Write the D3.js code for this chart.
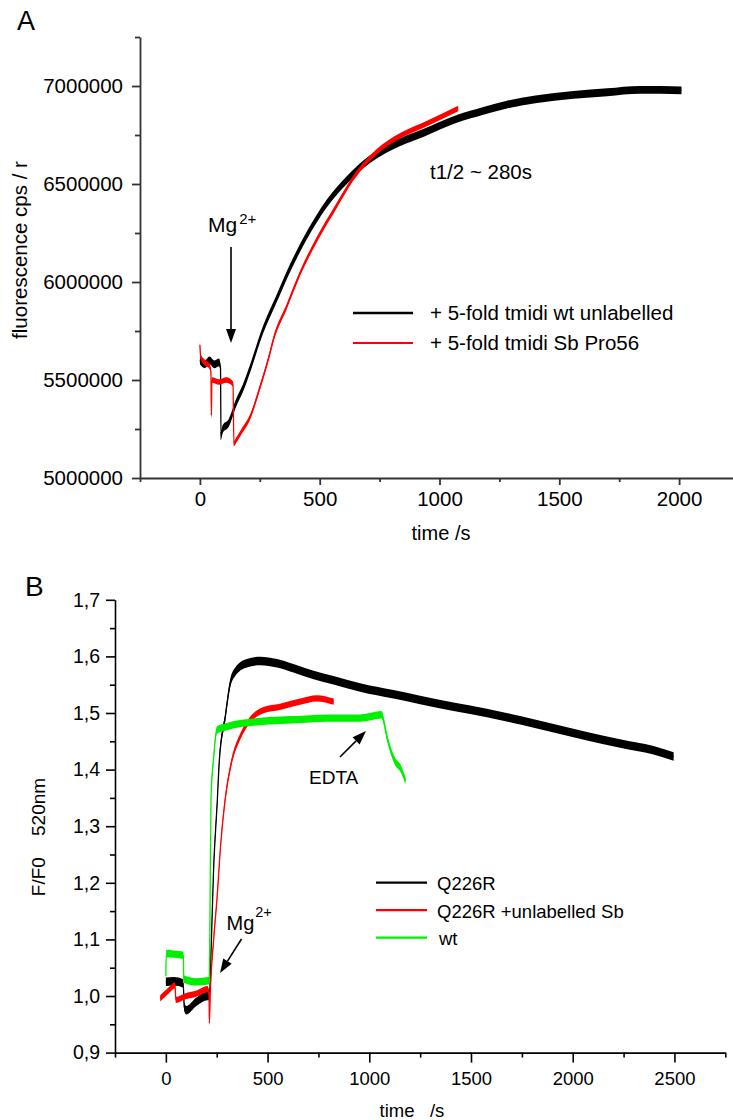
<!DOCTYPE html>
<html>
<head>
<meta charset="utf-8">
<script src="https://cdn.jsdelivr.net/npm/d3@7"></script>
<style>
  body { margin: 0; background: #fff; }
  text { font-family: "Liberation Sans", Arial, Helvetica, sans-serif; fill: #000; }
</style>
</head>
<body>
<div id="chart"></div>
<script>
// ---- panel A : fluorescence cps / r vs time
const aTimeWt = [0, 20, 40, 60, 80, 86, 88, 95, 120, 150, 180, 210, 258, 320, 376, 445, 529, 613, 682, 738, 834, 932, 1072, 1183, 1281, 1400, 1559, 1700, 1837, 2010];
const aWt = [5600000, 5580000, 5600000, 5580000, 5590000, 5560000, 5215000, 5250000, 5280000, 5380000, 5460000, 5560000,
  5738000, 5915000, 6070000, 6235000, 6400000, 6520000, 6600000, 6650000, 6712000, 6760000, 6832000, 6873000, 6905000,
  6932000, 6955000, 6968000, 6980000, 6978000];
const aTimeSb = [0, 3, 20, 40, 46, 48, 50, 80, 110, 138, 142, 150, 170, 209, 250, 292, 306, 362, 418, 487, 571, 640, 738, 834, 932, 1078];
const aSb = [5680000, 5620000, 5590000, 5570000, 5540000, 5320000, 5500000, 5490000, 5500000, 5480000, 5175000, 5190000, 5230000,
  5310000, 5460000, 5636000, 5704000, 5874000, 6044000, 6214000, 6390000, 6530000, 6665000, 6745000, 6800000, 6885000];
const aNoiseWt = 20000, aNoiseSb = 14000;
const aYTicks = [5000000, 5500000, 6000000, 6500000, 7000000];
const aYMinor = [5250000, 5750000, 6250000, 6750000, 7250000];
const aXTicks = [0, 500, 1000, 1500, 2000];
const aXMinor = [-250, 250, 750, 1250, 1750, 2250];
const aLegend = ["+ 5-fold tmidi wt unlabelled", "+ 5-fold tmidi Sb Pro56"];

// ---- panel B : F/F0 520nm vs time
const bTimeQ = [0, 40, 85, 91, 100, 150, 205, 214, 224, 234, 253, 263, 292, 316, 341, 398, 464, 546, 627, 726, 824, 955, 1119, 1250, 1414, 1578, 1742, 1906, 2070, 2233, 2397, 2496];
const bQ = [1.025, 1.026, 1.022, 0.98, 0.975, 0.99, 1.0, 1.0, 1.10, 1.217, 1.346, 1.417, 1.493, 1.552, 1.573, 1.588, 1.592, 1.588,
  1.579, 1.567, 1.558, 1.545, 1.533, 1.523, 1.511, 1.500, 1.487, 1.473, 1.459, 1.446, 1.434, 1.423];
const bTimeQSb = [-28, 0, 20, 45, 49, 100, 150, 205, 212, 214, 218, 235, 251, 270, 291, 325, 365, 414, 480, 561, 660, 742, 825];
const bQSb = [0.996, 1.005, 1.012, 1.019, 0.993, 1.0, 1.004, 1.012, 1.005, 0.952, 1.0, 1.10, 1.17, 1.27, 1.346, 1.417, 1.458, 1.488,
  1.505, 1.511, 1.520, 1.526, 1.520];
const bTimeWt = [0, 2, 40, 86, 88, 150, 210, 214, 218, 222, 234, 251, 300, 464, 627, 792, 955, 1062, 1068, 1088, 1123, 1157, 1178];
const bWt = [1.035, 1.075, 1.074, 1.072, 1.03, 1.025, 1.027, 1.03, 1.20, 1.35, 1.417, 1.470, 1.476, 1.485, 1.488, 1.491, 1.491, 1.497,
  1.49, 1.456, 1.417, 1.400, 1.38];
const bNoiseQ = 0.0075, bNoiseQSb = 0.0055, bNoiseWt = 0.0065;
const bYTicks = [0.9, 1.0, 1.1, 1.2, 1.3, 1.4, 1.5, 1.6, 1.7];
const bYMinor = [0.95, 1.05, 1.15, 1.25, 1.35, 1.45, 1.55, 1.65];
const bXTicks = [0, 500, 1000, 1500, 2000, 2500];
const bXMinor = [-250, 250, 750, 1250, 1750, 2250, 2750];
const bLegend = ["Q226R", "Q226R +unlabelled Sb", "wt"];

const width = 733, height = 1120;

const svg = d3.select("#chart")
  .append("svg")
  .attr("width", width)
  .attr("height", height)
  .style("display", "block");

svg.append("rect").attr("width", width).attr("height", height).attr("fill", "#fff");

// noisy trace: a band of +-noise around the read values, plus a thin centre line
function trace(g, x, y, ts, vs, noise, color) {
  const pts = ts.map((t, i) => [t, vs[i]]);
  g.append("path")
    .datum(pts)
    .attr("fill", color)
    .attr("d", d3.area()
      .curve(d3.curveMonotoneX)
      .x(d => x(d[0]))
      .y0(d => y(d[1] - noise))
      .y1(d => y(d[1] + noise)));
  g.append("path")
    .datum(pts)
    .attr("fill", "none")
    .attr("stroke", color)
    .attr("stroke-width", 1.3)
    .attr("d", d3.line().curve(d3.curveMonotoneX).x(d => x(d[0])).y(d => y(d[1])));
}

function arrow(g, x1, y1, x2, y2) {
  const a = Math.atan2(y2 - y1, x2 - x1), L = 14, W = 5;
  const bx = x2 - L * Math.cos(a), by = y2 - L * Math.sin(a);
  g.append("line").attr("x1", x1).attr("y1", y1).attr("x2", bx).attr("y2", by)
    .attr("stroke", "#000").attr("stroke-width", 1.6);
  g.append("path")
    .attr("d", "M" + x2 + "," + y2 +
      "L" + (bx + W * Math.sin(a)) + "," + (by - W * Math.cos(a)) +
      "L" + (bx - W * Math.sin(a)) + "," + (by + W * Math.cos(a)) + "Z")
    .attr("fill", "#000");
}

function styleAxis(sel, color, w, fs) {
  sel.selectAll("path, line").attr("stroke", color).attr("stroke-width", w);
  sel.selectAll("text").attr("font-size", fs).attr("fill", "#000")
    .attr("font-family", "'Liberation Sans', Arial, sans-serif");
}

// ================= PANEL A =================
const xA = d3.scaleLinear().domain([-250, 2250]).range([140, 739]);
const yA = d3.scaleLinear().domain([5000000, 7250000]).range([478, 37]);
const gA = svg.append("g");

gA.append("g").attr("transform", "translate(0,478)")
  .call(d3.axisBottom(xA).tickValues(aXMinor).tickSize(4).tickFormat("").tickSizeOuter(0))
  .call(s => { s.select(".domain").remove(); styleAxis(s, "#333", 1.8, 20); });
gA.append("g").attr("transform", "translate(0,478)")
  .call(d3.axisBottom(xA).tickValues(aXTicks).tickSize(7).tickPadding(6).tickSizeOuter(0).tickFormat(d3.format("d")))
  .call(s => styleAxis(s, "#333", 1.8, 20.5));
gA.append("g").attr("transform", "translate(140,0)")
  .call(d3.axisLeft(yA).tickValues(aYMinor).tickSize(5).tickFormat("").tickSizeOuter(0))
  .call(s => { s.select(".domain").remove(); styleAxis(s, "#333", 1.8, 20); });
gA.append("g").attr("transform", "translate(140,0)")
  .call(d3.axisLeft(yA).tickValues(aYTicks).tickSize(8).tickPadding(9).tickSizeOuter(0).tickFormat(d3.format("d")))
  .call(s => styleAxis(s, "#333", 1.8, 20.5));

trace(gA, xA, yA, aTimeWt, aWt, aNoiseWt, "#000");
trace(gA, xA, yA, aTimeSb, aSb, aNoiseSb, "#ff0000");

gA.append("text").attr("x", 17).attr("y", 30).attr("font-size", 27).text("A");
gA.append("text").attr("x", 441).attr("y", 540).attr("text-anchor", "middle").attr("font-size", 20).text("time /s");
gA.append("text").attr("transform", "translate(27,250) rotate(-90)").attr("text-anchor", "middle")
  .attr("font-size", 20.5).text("fluorescence cps / r");

const mgA = gA.append("text").attr("x", 208).attr("y", 232).attr("font-size", 21);
mgA.append("tspan").text("Mg");
mgA.append("tspan").attr("dy", -8).attr("dx", 2).attr("font-size", 15).text("2+");
arrow(gA, 231, 247, 231, 343);

gA.append("text").attr("x", 430).attr("y", 179).attr("font-size", 20.5).text("t1/2 ~ 280s");

const legA = gA.selectAll(".legA").data(aLegend).enter().append("g")
  .attr("transform", (d, i) => "translate(0," + (313 + i * 30) + ")");
legA.append("line").attr("x1", 353).attr("x2", 413)
  .attr("stroke", (d, i) => i === 0 ? "#000" : "#ff0000").attr("stroke-width", (d, i) => i === 0 ? 2.5 : 1.8);
legA.append("text").attr("x", 430).attr("y", 7).attr("font-size", 20.5).text(d => d);

// ================= PANEL B =================
const xB = d3.scaleLinear().domain([-250, 2750]).range([115, 725.3]);
const yB = d3.scaleLinear().domain([0.9, 1.7]).range([1052.6, 599.8]);
const gB = svg.append("g");
const commaFmt = d => d3.format(".1f")(d).replace(".", ",");

gB.append("g").attr("transform", "translate(0,1052.6)")
  .call(d3.axisBottom(xB).tickValues(bXMinor).tickSize(5).tickFormat("").tickSizeOuter(0))
  .call(s => { s.select(".domain").remove(); styleAxis(s, "#000", 1.6, 18); });
gB.append("g").attr("transform", "translate(0,1052.6)")
  .call(d3.axisBottom(xB).tickValues(bXTicks).tickSize(10).tickPadding(9).tickSizeOuter(0).tickFormat(d3.format("d")))
  .call(s => styleAxis(s, "#000", 1.6, 18.5));
gB.append("g").attr("transform", "translate(115,0)")
  .call(d3.axisLeft(yB).tickValues(bYMinor).tickSize(5).tickFormat("").tickSizeOuter(0))
  .call(s => { s.select(".domain").remove(); styleAxis(s, "#000", 1.6, 18); });
gB.append("g").attr("transform", "translate(115,0)")
  .call(d3.axisLeft(yB).tickValues(bYTicks).tickSize(9).tickPadding(6).tickSizeOuter(0).tickFormat(commaFmt))
  .call(s => styleAxis(s, "#000", 1.6, 19.5));

trace(gB, xB, yB, bTimeQ, bQ, bNoiseQ, "#000");
trace(gB, xB, yB, bTimeQSb, bQSb, bNoiseQSb, "#ff0000");
trace(gB, xB, yB, bTimeWt, bWt, bNoiseWt, "#00f000");

gB.append("text").attr("x", 25).attr("y", 596).attr("font-size", 28).text("B");
gB.append("text").attr("x", 412).attr("y", 1117).attr("text-anchor", "middle").attr("font-size", 18.5)
  .style("white-space", "pre").text("time   /s");
gB.append("text").attr("transform", "translate(45,837) rotate(-90)").attr("text-anchor", "middle")
  .attr("font-size", 19).style("white-space", "pre").text("F/F0    520nm");

const mgB = gB.append("text").attr("x", 226.5).attr("y", 930).attr("font-size", 20);
mgB.append("tspan").text("Mg");
mgB.append("tspan").attr("dy", -13).attr("dx", 1).attr("font-size", 14.5).text("2+");
arrow(gB, 241.5, 939, 220, 973);

gB.append("text").attr("x", 309).attr("y", 784).attr("font-size", 19).text("EDTA");
arrow(gB, 340, 757, 366, 731);

const legColors = ["#000", "#ff0000", "#00f000"];
const legB = gB.selectAll(".legB").data(bLegend).enter().append("g")
  .attr("transform", (d, i) => "translate(0," + (882.7 + i * 27.5) + ")");
legB.append("line").attr("x1", 376).attr("x2", 427)
  .attr("stroke", (d, i) => legColors[i]).attr("stroke-width", 2.2);
legB.append("text").attr("x", (d, i) => i === 2 ? 439 : 437).attr("y", 7.5).attr("font-size", 18.5).text(d => d);
</script>
</body>
</html>
